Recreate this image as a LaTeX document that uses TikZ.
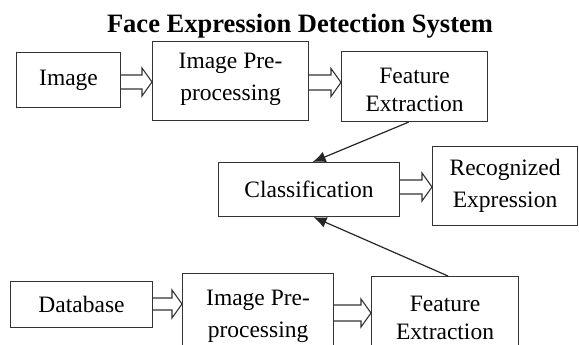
\documentclass[tikz,border=0pt]{standalone}
\usepackage{fontspec}
\setmainfont{Liberation Serif}
\usetikzlibrary{arrows.meta,calc}

% hollow block arrow from the east side of #2 to the west side of #3 at height #4
\newcommand\fatarrow[4][7]{%
  \path (#2.east |- 0,#4) coordinate (fa-s) (#3.west |- 0,#4) coordinate (fa-t);
  \draw[fatline] let \p1=(fa-s), \p2=(fa-t) in
    (\x1,\y1+#1pt) -- (\x2-10pt,\y1+#1pt) -- (\x2-10pt,\y1+14pt) -- (\x2,\y1)
    -- (\x2-10pt,\y1-14pt) -- (\x2-10pt,\y1-#1pt) -- (\x1,\y1-#1pt);}

\begin{document}
\begin{tikzpicture}[x=1pt,y=-1pt,
  box/.style={draw=black!80, line width=1.1pt, fill=white, inner sep=0pt, anchor=north west},
  lbl/.style={font=\fontsize{23.5}{28}\selectfont, align=center, inner sep=0pt},
  wide/.style={font=\fontsize{23.5}{32}\selectfont},
  fatline/.style={draw=black!80, line width=1.1pt, fill=white, line join=miter},
  link/.style={draw=black!85, line width=1.2pt, -{Latex[length=13pt,width=11pt]}}]
\useasboundingbox (0,0) rectangle (579,345);
\clip (0,0) rectangle (579,345);

\node[font=\fontsize{26.5}{30}\selectfont\bfseries, anchor=base, inner sep=0pt] (title) at (300,33) {Face Expression Detection System};

% upper pipeline
\node[box, minimum width=104pt, minimum height=55pt] (img) at (16,52) {};
\node[lbl] (imgT) at (img.center) {Image};
\node[box, minimum width=156pt, minimum height=79pt] (pre1) at (152,41) {};
\node[lbl, wide] (pre1T) at ($(pre1.center)+(0,-2)$) {Image Pre-\\processing};
\node[box, minimum width=146pt, minimum height=70pt] (fe1) at (341,51) {};
\node[lbl] (fe1T) at ($(fe1.center)+(0,3)$) {Feature\\Extraction};

% classifier and output
\node[box, minimum width=181pt, minimum height=54pt] (cls) at (218,162) {};
\node[lbl] (clsT) at (cls.center) {Classification};
\node[box, minimum width=145pt, minimum height=79pt] (rec) at (432,146) {};
\node[lbl, wide] (recT) at ($(rec.center)+(0,0)$) {Recognized\\Expression};

% lower pipeline (boxes run past the bottom edge)
\node[box, minimum width=142pt, minimum height=46pt] (db) at (10,281) {};
\node[lbl] (dbT) at (db.center) {Database};
\node[box, minimum width=151pt, minimum height=90pt] (pre2) at (182,273) {};
\node[lbl, wide, anchor=north] (pre2T) at ($(pre2.north)+(0,17)$) {Image Pre-\\processing};
\node[box, minimum width=147pt, minimum height=90pt] (fe2) at (371,276) {};
\node[lbl, anchor=north] (fe2T) at ($(fe2.north)+(0,20)$) {Feature\\Extraction};

% block arrows
\fatarrow{img}{pre1}{82}
\fatarrow[7.5]{pre1}{fe1}{82.5}
\fatarrow{cls}{rec}{187}
\fatarrow[6]{db}{pre2}{304}
\fatarrow[8]{pre2}{fe2}{313}

% feature vectors into the classifier
\draw[link] ($(fe1.south west)!0.46!(fe1.south east)$) -- ($(cls.north west)!0.52!(cls.north east)$);
\draw[link] ($(fe2.north west)!0.52!(fe2.north east)$) -- ($(cls.south west)!0.525!(cls.south east)$);
\end{tikzpicture}
\end{document}
